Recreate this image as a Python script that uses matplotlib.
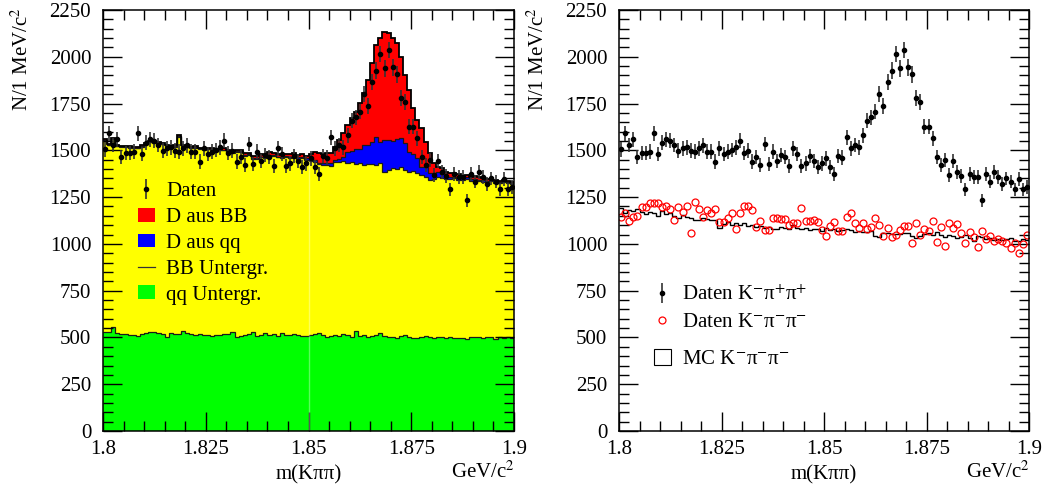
import numpy as np
import matplotlib
matplotlib.use("Agg")
import matplotlib.pyplot as plt
from matplotlib.patches import Patch
from matplotlib.lines import Line2D
from matplotlib.ticker import MultipleLocator

plt.rcParams["font.family"] = ["Liberation Serif", "DejaVu Serif"]
plt.rcParams["mathtext.fontset"] = "stix"

# 1 MeV bins from 1.8 to 1.9 GeV/c^2
edges = np.linspace(1.8, 1.9, 101)
centers = 0.5 * (edges[:-1] + edges[1:])

x_ticks = [1.8, 1.825, 1.85, 1.875, 1.9]
x_ticklabels = ["1.8", "1.825", "1.85", "1.875", "1.9"]

# data K- pi+ pi+ (same sample in both panels)
data_kpp = [1505, 1591, 1528, 1559, 1466, 1487, 1487, 1493, 1591, 1480,
            1541, 1559, 1552, 1528, 1498, 1511, 1516, 1498, 1493, 1511,
            1527, 1493, 1493, 1440, 1511, 1480, 1493, 1502, 1516, 1552,
            1487, 1498, 1440, 1466, 1422, 1534, 1427, 1493, 1445, 1475,
            1466, 1416, 1511, 1480, 1416, 1430, 1470, 1445, 1413, 1430,
            1457, 1413, 1374, 1470, 1461, 1570, 1511, 1528, 1516, 1580,
            1659, 1676, 1707, 1800, 1737, 1867, 1926, 2015, 1938, 2036,
            1943, 1906, 1778, 1760, 1627, 1627, 1564, 1466, 1422, 1448,
            1368, 1443, 1386, 1363, 1291, 1374, 1359, 1356, 1234, 1374,
            1333, 1386, 1356, 1320, 1350, 1333, 1291, 1345, 1291, 1305]

# stacked MC levels (top of each layer)
top_dbb = [1560, 1535, 1565, 1530, 1525, 1525, 1522, 1520, 1518, 1528,
           1540, 1550, 1548, 1545, 1540, 1530, 1525, 1528, 1580, 1530,
           1525, 1520, 1522, 1515, 1512, 1515, 1510, 1505, 1508, 1510,
           1500, 1498, 1500, 1502, 1485, 1488, 1470, 1468, 1478, 1475,
           1490, 1485, 1480, 1476, 1482, 1478, 1488, 1475, 1480, 1470,
           1480, 1492, 1484, 1480, 1484, 1487, 1520, 1555, 1591, 1635,
           1671, 1707, 1751, 1805, 1876, 1965, 2063, 2098, 2130, 2125,
           2098, 2072, 2000, 1902, 1822, 1724, 1662, 1618, 1546, 1484,
           1431, 1413, 1404, 1386, 1377, 1380, 1372, 1365, 1368, 1360,
           1362, 1355, 1350, 1345, 1348, 1340, 1338, 1342, 1335, 1332]

top_dqq = [1555, 1531, 1561, 1525, 1521, 1521, 1518, 1515, 1513, 1523,
           1535, 1546, 1543, 1540, 1535, 1525, 1521, 1523, 1575, 1525,
           1520, 1515, 1517, 1510, 1507, 1509, 1505, 1499, 1503, 1504,
           1494, 1492, 1494, 1496, 1477, 1480, 1461, 1460, 1467, 1465,
           1477, 1473, 1467, 1465, 1469, 1464, 1474, 1462, 1466, 1457,
           1452, 1448, 1434, 1432, 1434, 1432, 1450, 1452, 1467, 1492,
           1495, 1505, 1505, 1528, 1530, 1543, 1573, 1546, 1555, 1555,
           1550, 1560, 1564, 1540, 1492, 1480, 1457, 1413, 1413, 1377,
           1380, 1385, 1375, 1365, 1358, 1360, 1352, 1350, 1355, 1346,
           1348, 1342, 1340, 1337, 1341, 1334, 1331, 1335, 1330, 1327]

top_bb = [1552, 1528, 1558, 1522, 1518, 1518, 1515, 1512, 1510, 1520,
          1532, 1543, 1540, 1537, 1532, 1522, 1518, 1520, 1572, 1522,
          1517, 1512, 1514, 1507, 1504, 1506, 1502, 1496, 1500, 1500,
          1490, 1488, 1490, 1492, 1472, 1475, 1456, 1455, 1462, 1460,
          1472, 1468, 1462, 1460, 1463, 1458, 1468, 1455, 1460, 1450,
          1445, 1440, 1425, 1420, 1422, 1418, 1440, 1438, 1442, 1430,
          1440, 1425, 1430, 1420, 1428, 1425, 1420, 1430, 1386, 1395,
          1405, 1400, 1410, 1395, 1386, 1390, 1378, 1370, 1360, 1340,
          1345, 1358, 1350, 1348, 1345, 1350, 1342, 1340, 1345, 1338,
          1340, 1335, 1333, 1330, 1335, 1328, 1325, 1330, 1325, 1322]

top_qq = [530, 528, 555, 525, 518, 520, 512, 515, 508, 518,
          525, 530, 528, 525, 520, 505, 522, 520, 518, 535,
          525, 520, 515, 520, 512, 515, 510, 512, 515, 518,
          520, 530, 505, 508, 515, 520, 528, 510, 512, 525,
          515, 520, 510, 525, 515, 512, 520, 515, 510, 508,
          515, 520, 525, 515, 505, 508, 512, 510, 518, 512,
          505, 535, 510, 515, 505, 508, 512, 522, 510, 505,
          500, 498, 508, 512, 502, 495, 498, 505, 510, 500,
          498, 502, 505, 498, 500, 495, 498, 496, 490, 505,
          500, 502, 498, 505, 500, 490, 500, 498, 500, 495]

# wrong-sign data K- pi- pi- and its MC
data_kmm = [1145, 1163, 1124, 1145, 1150, 1198, 1195, 1221, 1221, 1221,
            1198, 1202, 1186, 1127, 1195, 1172, 1202, 1056, 1225, 1189,
            1145, 1180, 1163, 1189, 1118, 1118, 1136, 1163, 1080, 1163,
            1204, 1204, 1180, 1092, 1124, 1074, 1074, 1136, 1136, 1131,
            1131, 1101, 1110, 1113, 1193, 1122, 1124, 1127, 1118, 1074,
            1042, 1095, 1118, 1071, 1071, 1142, 1163, 1110, 1083, 1113,
            1078, 1092, 1136, 1099, 1042, 1083, 1035, 1048, 1074, 1095,
            1095, 1003, 1110, 1048, 1078, 1071, 1124, 1012, 1088, 989,
            1110, 1083, 1106, 1056, 1003, 1062, 1035, 985, 1071, 1024,
            1042, 1017, 1024, 1017, 1003, 976, 1006, 950, 999, 1048]

mc_kmm = [1190, 1165, 1180, 1175, 1185, 1170, 1160, 1172, 1165, 1150,
          1175, 1160, 1165, 1150, 1140, 1155, 1145, 1140, 1130, 1125,
          1140, 1135, 1125, 1130, 1085, 1105, 1115, 1100, 1110, 1100,
          1110, 1095, 1100, 1090, 1095, 1085, 1090, 1080, 1082, 1090,
          1085, 1078, 1100, 1085, 1080, 1085, 1075, 1080, 1078, 1070,
          1085, 1075, 1078, 1070, 1075, 1080, 1072, 1065, 1070, 1065,
          1062, 1068, 1040, 1038, 1058, 1060, 1055, 1052, 1055, 1060,
          1060, 1042, 1030, 1040, 1055, 1060, 1045, 1065, 1050, 1035,
          1045, 1040, 1030, 1035, 1045, 1030, 1015, 1040, 1035, 1025,
          1030, 1020, 1028, 1022, 1025, 1030, 1015, 1018, 1025, 1020]

FS = 15


def style_axes(ax):
    ax.set_xlim(1.8, 1.9)
    ax.set_ylim(0, 2250)
    ax.set_xticks(x_ticks)
    ax.set_xticklabels(x_ticklabels)
    ax.xaxis.set_minor_locator(MultipleLocator(0.005))
    ax.yaxis.set_major_locator(MultipleLocator(250))
    ax.yaxis.set_minor_locator(MultipleLocator(50))
    ax.tick_params(which="both", direction="in", top=True, right=True,
                   labelsize=FS, width=1)
    ax.tick_params(which="major", length=14)
    ax.tick_params(which="minor", length=7)
    ax.tick_params(axis="y", pad=8.5)
    ax.tick_params(axis="x", pad=6.5)
    for s in ax.spines.values():
        s.set_linewidth(1.1)
    ax.text(0.5, -0.103, "m(Kππ)", transform=ax.transAxes, ha="center",
            va="center", fontsize=FS)
    ax.text(0.925, -0.097, "GeV/c$^2$", transform=ax.transAxes, ha="center",
            va="center", fontsize=FS)


def data_handle():
    bar = Line2D([], [], ls="none", marker="|", ms=15, mew=1.2, color="0.2")
    dot = Line2D([], [], ls="none", marker="o", ms=3, color="black")
    return (bar, dot)


fig = plt.figure(figsize=(10.47, 4.98), dpi=100)
ax1 = fig.add_axes([103 / 1047, 67 / 498, 411 / 1047, 421 / 498])
ax2 = fig.add_axes([619 / 1047, 67 / 498, 410 / 1047, 421 / 498])

# left panel: stacked MC + data
ax1.stairs(top_qq, edges, baseline=0, fill=True, color="#00ff00")
ax1.stairs(top_bb, edges, baseline=top_qq, fill=True, color="#ffff00")
ax1.stairs(top_dqq, edges, baseline=top_bb, fill=True, color="#0000ff")
ax1.stairs(top_dbb, edges, baseline=top_dqq, fill=True, color="#ff0000")
for lvl in (top_qq, top_bb, top_dqq):
    ax1.stairs(lvl, edges, baseline=None, color="0.1", lw=0.9)
ax1.stairs(top_dbb, edges, baseline=None, color="black", lw=1.3)
ax1.vlines(1.85, 0, top_bb[50], color="white", alpha=0.35, lw=1.0)
ax1.errorbar(centers, data_kpp, yerr=np.sqrt(data_kpp), fmt="o",
             ms=3, color="black", ecolor="0.2", elinewidth=1.2, capsize=0)
style_axes(ax1)

h1 = [data_handle(),
      Patch(facecolor="#ff0000", edgecolor="none"),
      Patch(facecolor="#0000ff", edgecolor="none"),
      Line2D([], [], color="0.2", lw=0.9),
      Patch(facecolor="#00ff00", edgecolor="none")]
l1 = ["Daten", "D aus BB", "D aus qq", "BB Untergr.", "qq Untergr."]
ax1.legend(h1, l1, loc="upper left", bbox_to_anchor=(0.065, 0.612),
           frameon=False, fontsize=FS, handlelength=0.8, handleheight=0.65,
           handletextpad=0.55, labelspacing=0.32, borderaxespad=0)

# right panel: right-sign vs wrong-sign
ax2.errorbar(centers, data_kpp, yerr=np.sqrt(data_kpp), fmt="o",
             ms=3, color="black", ecolor="0.2", elinewidth=1.2, capsize=0)
circ, = ax2.plot(centers, data_kmm, "o", ms=5, mfc="none", mec="red",
                 mew=0.9)
ax2.stairs(mc_kmm, edges, baseline=None, color="black", lw=1.0)
style_axes(ax2)

lg_a = ax2.legend([data_handle(), circ],
                  ["Daten K$^{-}$π$^{+}$π$^{+}$", "Daten K$^{-}$π$^{-}$π$^{-}$"],
                  loc="upper left", bbox_to_anchor=(0.065, 0.366),
                  frameon=False, fontsize=FS, handlelength=0.8,
                  handletextpad=0.55, labelspacing=0.36, borderaxespad=0)
ax2.add_artist(lg_a)
ax2.legend([Patch(facecolor="white", edgecolor="black", lw=0.8)],
           ["MC K$^{-}$π$^{-}$π$^{-}$"],
           loc="upper left", bbox_to_anchor=(0.065, 0.214),
           frameon=False, fontsize=FS, handlelength=0.8, handleheight=0.8,
           handletextpad=0.55, borderaxespad=0)

for x in (0.021, 0.514):
    fig.text(x, 0.985, "N/1 MeV/c$^2$", rotation=90, ha="center", va="top",
             fontsize=FS)

fig.savefig("out.png", dpi=100)
